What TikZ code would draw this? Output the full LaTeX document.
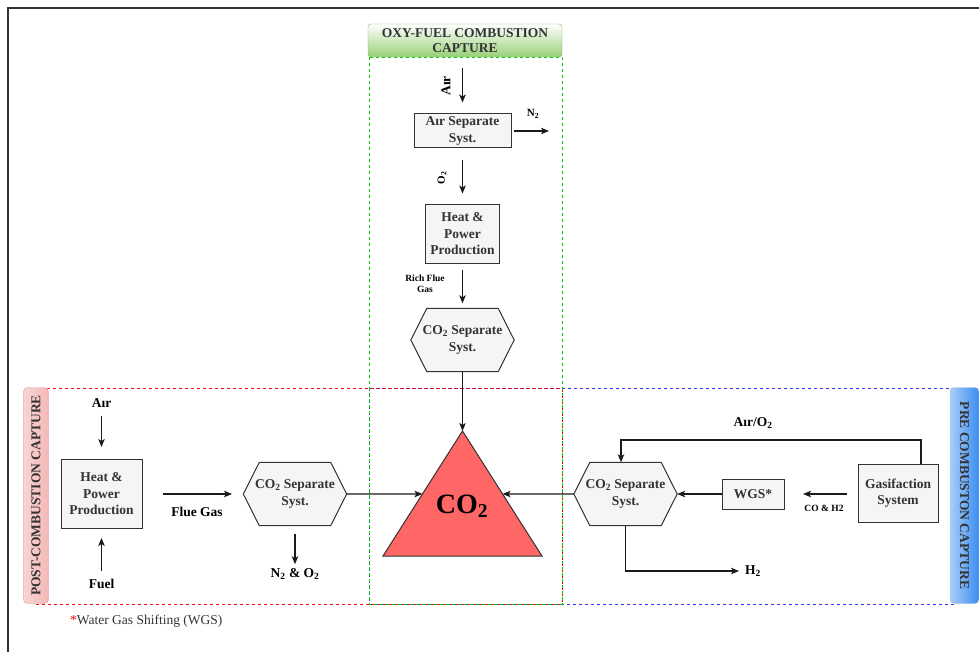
\documentclass[tikz,border=0pt]{standalone}
\usepackage{fontspec}
\setmainfont{Liberation Serif}
\usetikzlibrary{arrows.meta,calc,backgrounds}
\definecolor{boxfill}{HTML}{F5F5F5}
\definecolor{boxline}{HTML}{333333}
\definecolor{boxtext}{HTML}{333333}
\definecolor{linec}{HTML}{1A1A1A}
\definecolor{trired}{HTML}{FF6666}
\definecolor{dashred}{HTML}{FF0000}
\definecolor{dashgreen}{HTML}{00CC00}
\definecolor{dashblue}{HTML}{3333FF}
\definecolor{greenbot}{HTML}{97D077}
\definecolor{greenline}{HTML}{82B366}
\definecolor{pinkfill}{HTML}{F4B8B8}
\definecolor{pinkline}{HTML}{E89A9A}
\definecolor{bluel}{HTML}{A9CCF7}
\definecolor{bluer}{HTML}{3A8DF2}
\definecolor{blueline}{HTML}{6C8EBF}
\newcommand{\hexoutline}[1]{%
  \draw[hexline] (#1.west) -- ([xshift=16pt]#1.north west) -- ([xshift=-16pt]#1.north east)
    -- (#1.east) -- ([xshift=-16pt]#1.south east) -- ([xshift=16pt]#1.south west) -- cycle;}
\begin{document}
\begin{tikzpicture}[x=1pt,y=-1pt,
  stepbox/.style={draw=boxline,fill=boxfill,line width=1pt,text=boxtext,
     font=\fontsize{13.5}{16.5}\selectfont\bfseries,align=center,inner sep=0pt},
  hexspot/.style={text=boxtext,font=\fontsize{13.5}{16.5}\selectfont\bfseries,align=center,
     inner sep=0pt,minimum width=103pt,minimum height=63pt},
  hexline/.style={draw=boxline,fill=boxfill,line width=1pt},
  lbl/.style={font=\fontsize{13.5}{15}\selectfont\bfseries,inner sep=1pt,align=center},
  smalllbl/.style={font=\fontsize{9.5}{10.5}\selectfont\bfseries,inner sep=1pt,align=center},
  arr/.style={draw=linec,line width=1.2pt,-{Stealth[length=8pt,width=6.5pt,inset=2pt]}},
  zone/.style={line width=0.9pt,dash pattern=on 3pt off 3pt},
  sidelabel/.style={font=\fontsize{13.5}{15}\selectfont\bfseries,text=boxtext,inner sep=0pt}
]
\useasboundingbox (0,0) rectangle (979,652);
% frame
\draw[line width=1.5pt,color=boxline] (979,8) -- (8,8) -- (8,652);

% zones
\draw[zone,dashblue] (369,388) rectangle (956,604);
\draw[zone,dashred] (36,388) rectangle (562,604);
\draw[zone,dashgreen] (369,57) rectangle (562,604);

% headers
\node[draw=greenline,rounded corners=3pt,top color=white,bottom color=greenbot,
  minimum width=194pt,minimum height=33pt,inner sep=0pt,align=center,
  font=\fontsize{13.5}{15}\selectfont\bfseries,text=boxtext] (oxyhead) at (465,40.5)
  {OXY-FUEL COMBUSTION\\CAPTURE};
\node[draw=pinkline,rounded corners=4pt,left color=pinkfill!60,right color=pinkfill,
  minimum width=25pt,minimum height=216pt,inner sep=0pt] (postlab) at (36,495.5) {};
\node[sidelabel,rotate=90] (posttext) at (postlab.center) {POST-COMBUSTION CAPTURE};
\node[draw=blueline!60,rounded corners=4pt,left color=bluel,right color=bluer,
  minimum width=29pt,minimum height=216pt,inner sep=0pt] (prelab) at (964.5,495.5) {};
\node[sidelabel,rotate=-90] (pretext) at (prelab.center) {PRE COMBUSTON CAPTURE};

% ---------- oxy-fuel chain ----------
\coordinate (oxyairtop) at (462,68);
\node[lbl,rotate=90] (oxyair) at (446,86) {Aır};
\node[stepbox,minimum width=97pt,minimum height=34pt] (airsep) at (462.5,131) {Aır Separate\\Syst.};
\coordinate (n2end) at (549,131);
\node[lbl,font=\fontsize{11}{12}\selectfont\bfseries] (n2lbl) at (533,114) {N\textsubscript{2}};
\node[stepbox,minimum width=74pt,minimum height=58pt] (oxyheat) at (462.5,234) {Heat \&\\Power\\Production};
\node[lbl,rotate=90,font=\fontsize{11}{12}\selectfont\bfseries] (o2lbl) at (442,178) {O\textsubscript{2}};
\node[smalllbl] (richlbl) at (425,284) {Rich Flue\\Gas};
\node[hexspot] (oxyhex) at (462.5,340) {CO\textsubscript{2} Separate\\Syst.};

\draw[arr,shorten >=11pt] (oxyairtop -| airsep.north) -- (airsep.north);
\draw[arr,shorten <=2pt] (airsep.east) -- (n2end);
\draw[arr,shorten <=12pt,shorten >=11pt] (airsep.south) -- (oxyheat.north);
\draw[arr,shorten <=6pt,shorten >=5pt] (oxyheat.south) -- (oxyhex.north);

% ---------- CO2 triangle ----------
\coordinate (tA) at (462.5,431);
\coordinate (tB) at (383,556);
\coordinate (tC) at (542,556);
\draw[draw=boxline,fill=trired,line width=1pt,line join=miter] (tA) -- (tB) -- (tC) -- cycle;
\node[font=\fontsize{28}{30}\selectfont\bfseries] (co2) at (462,506) {CO\textsubscript{2}};
\coordinate (tleft) at ($(tA)!0.504!(tB)$);
\coordinate (tright) at ($(tA)!0.504!(tC)$);
\draw[arr] (oxyhex.south) -- (tA);

% ---------- post-combustion ----------
\node[lbl] (postair) at (101.5,403) {Aır};
\node[stepbox,minimum width=81pt,minimum height=69pt] (postheat) at (101.5,494) {Heat \&\\Power\\Production};
\node[lbl] (fuel) at (101.5,584) {Fuel};
\node[lbl] (fluegas) at (197,512) {Flue Gas};
\node[hexspot] (posthex) at (295,494) {CO\textsubscript{2} Separate\\Syst.};
\node[lbl] (n2o2) at (295,574) {N\textsubscript{2} \& O\textsubscript{2}};
\coordinate (flueA) at (163,494);
\coordinate (flueB) at (232,494);

\draw[arr,shorten <=7pt,shorten >=12pt] (postair.south) -- (postheat.north);
\draw[arr,shorten <=7pt,shorten >=9pt] (fuel.north) -- (postheat.south);
\draw[arr] (flueA) -- (flueB);
\draw[arr] (posthex.east) -- (tleft);
\draw[arr,shorten <=8pt,shorten >=3pt] (posthex.south) -- (n2o2.north);

% ---------- pre-combustion ----------
\node[hexspot] (prehex) at (625.5,494) {CO\textsubscript{2} Separate\\Syst.};
\node[stepbox,minimum width=62pt,minimum height=30pt] (wgs) at (753,494) {WGS*};
\node[stepbox,minimum width=80pt,minimum height=58pt] (gasif) at (898,493) {Gasifaction\\System};
\node[smalllbl] (cohlbl) at (824,508) {CO \& H2};
\node[lbl] (airo2) at (753,423) {Aır/O\textsubscript{2}};
\node[lbl] (h2lbl) at (753,571) {H\textsubscript{2}};
\coordinate (coA) at (847,494);
\coordinate (coB) at (803,494);
\coordinate (loopR) at (921,440);
\coordinate (loopL) at (621,440);
\coordinate (h2corner) at (625.5,571);
\coordinate (h2end) at (739,571);

\draw[arr] (prehex.west) -- (tright);
\draw[arr] (wgs.west) -- (prehex.east);
\draw[arr] (coA) -- (coB);
\draw[arr] (gasif.north -| loopR) -- (loopR) -- (loopL) -- (prehex.north -| loopL);
\draw[arr] (prehex.south) -- (h2corner) -- (h2end);

% hexagon outlines behind their text
\begin{scope}[on background layer]
  \hexoutline{oxyhex}
  \hexoutline{posthex}
  \hexoutline{prehex}
\end{scope}

% footnote
\node[anchor=west,font=\fontsize{13.5}{15}\selectfont,text=boxtext,inner sep=0pt] (foot) at (70,621)
  {\textcolor{red}{*}Water Gas Shifting (WGS)};
\end{tikzpicture}
\end{document}
